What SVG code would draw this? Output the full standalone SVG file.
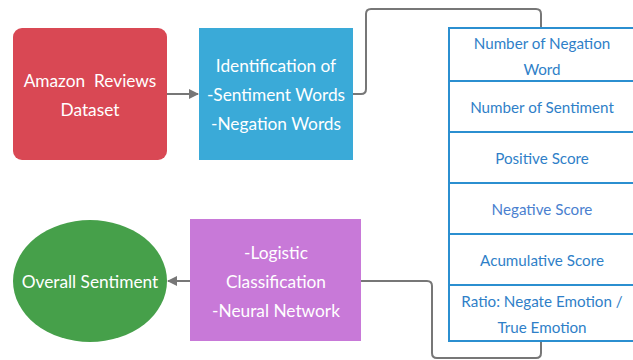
<svg xmlns="http://www.w3.org/2000/svg" width="633" height="360" viewBox="0 0 633 360">
  <style>
    .lbl { font-family: Lato, "Open Sans", sans-serif; fill: #ffffff; font-size: 17.3px; text-anchor: middle; dominant-baseline: central; white-space: pre; }
    .cell { font-family: Lato, "Open Sans", sans-serif; fill: #2f7fc8; font-size: 15.2px; text-anchor: middle; dominant-baseline: central; }
    .row { fill: #ffffff; stroke: #2b8fd0; stroke-width: 2; }
    .conn { fill: none; stroke: #777777; stroke-width: 2; }
  </style>
  <defs>
    <marker id="arrow" viewBox="0 0 10 10" refX="9" refY="5" markerWidth="5" markerHeight="5" orient="auto" markerUnits="strokeWidth">
      <path d="M0,0 L10,5 L0,10 Z" fill="#777777"/>
    </marker>
  </defs>
  <rect width="633" height="360" fill="#ffffff"/>

  <g id="connectors">
    <path class="conn" d="M167,94 L198,94" marker-end="url(#arrow)"/>
    <path class="conn" d="M353,94 L361,94 Q366,94 366,89 L366,14 Q366,9 371,9 L536,9 Q541,9 541,14 L541,28"/>
    <path class="conn" d="M361,281 L427,281 Q432,281 432,286 L432,353 Q432,358 437,358 L536,358 Q541,358 541,353 L541,341"/>
    <path class="conn" d="M190,281 L168,281" marker-end="url(#arrow)"/>
  </g>

  <g id="dataset">
    <rect x="13" y="28" width="154" height="132" rx="9" fill="#d94854"/>
    <text class="lbl" x="90" y="80" xml:space="preserve">Amazon  Reviews</text>
    <text class="lbl" x="90" y="109">Dataset</text>
  </g>

  <g id="identification">
    <rect x="199" y="28" width="154" height="132" fill="#3aaad8"/>
    <text class="lbl" x="276" y="65">Identification of</text>
    <text class="lbl" x="276" y="94">-Sentiment Words</text>
    <text class="lbl" x="276" y="123">-Negation Words</text>
  </g>

  <g id="features">
    <rect class="row" x="449" y="28" width="186" height="53"/>
    <rect class="row" x="449" y="81" width="186" height="51"/>
    <rect class="row" x="449" y="132" width="186" height="51"/>
    <rect class="row" x="449" y="183" width="186" height="51"/>
    <rect class="row" x="449" y="234" width="186" height="51"/>
    <rect class="row" x="449" y="285" width="186" height="56"/>
    <text class="cell" x="542" y="43">Number of Negation</text>
    <text class="cell" x="542" y="69">Word</text>
    <text class="cell" x="542" y="107">Number of Sentiment</text>
    <text class="cell" x="542" y="158">Positive Score</text>
    <text class="cell" x="542" y="209" style="fill:#4a7fcf">Negative Score</text>
    <text class="cell" x="542" y="260">Acumulative Score</text>
    <text class="cell" x="542" y="301">Ratio: Negate Emotion /</text>
    <text class="cell" x="542" y="327">True Emotion</text>
  </g>

  <g id="classification">
    <rect x="190" y="219" width="171" height="122" fill="#c879d8"/>
    <text class="lbl" x="276" y="252">-Logistic</text>
    <text class="lbl" x="276" y="281">Classification</text>
    <text class="lbl" x="276" y="310">-Neural Network</text>
  </g>

  <g id="overall">
    <ellipse cx="90" cy="281" rx="77" ry="61" fill="#46a04a"/>
    <text class="lbl" x="90" y="281">Overall Sentiment</text>
  </g>
</svg>
